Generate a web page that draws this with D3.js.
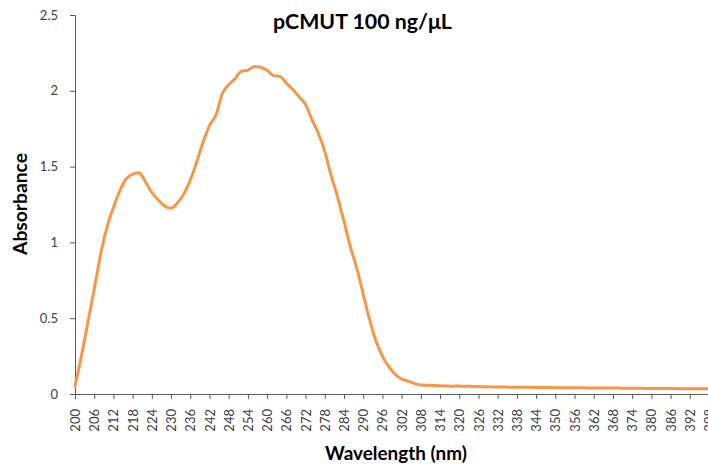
<!DOCTYPE html>
<html>
<head>
<meta charset="utf-8">
<script src="https://cdn.jsdelivr.net/npm/d3@7"></script>
<style>
  html, body { margin: 0; padding: 0; background: #fff; }
  svg { display: block; font-family: Lato, "Open Sans", sans-serif; }
</style>
</head>
<body>
<svg id="chart" width="708" height="468"></svg>
<script>
// ---- data ----
const wavelengths = [200,202,204,206,208,210,212,214,216,218,220,222,224,226,228,230,232,234,236,238,
  240,242,244,246,248,250,252,254,256,258,260,262,264,266,268,270,272,274,276,278,
  280,282,284,286,288,290,292,294,296,298,300,302,304,306,308,310,312,314,316,318,
  320,322,324,326,328,330,332,334,336,338,340,342,344,346,348,350,352,354,356,358,
  360,362,364,366,368,370,372,374,376,378,380,382,384,386,388,390,392,394,396,398];
const absorbance = [0.05,0.25,0.47,0.69,0.92,1.10,1.23,1.34,1.42,1.45,1.46,1.40,1.33,1.28,1.24,1.225,1.26,1.32,1.41,1.53,
  1.66,1.77,1.84,1.98,2.04,2.08,2.13,2.135,2.16,2.155,2.135,2.10,2.095,2.05,2.01,1.96,1.91,1.81,1.72,1.60,
  1.44,1.30,1.14,0.97,0.83,0.66,0.49,0.35,0.25,0.18,0.13,0.10,0.085,0.07,0.06,0.058,0.056,0.054,0.052,0.051,
  0.053,0.051,0.050,0.049,0.048,0.047,0.046,0.046,0.045,0.045,0.044,0.044,0.043,0.043,0.043,0.042,0.042,0.042,0.041,0.041,
  0.040,0.040,0.040,0.039,0.039,0.039,0.038,0.038,0.038,0.037,0.037,0.037,0.036,0.036,0.035,0.035,0.035,0.034,0.034,0.034];
const xTicks = d3.range(200, 399, 6);
const yTicks = [0, 0.5, 1, 1.5, 2, 2.5];
const titleText = "pCMUT 100 ng/\u03bcL";
const xTitle = "Wavelength (nm)";
const yTitle = "Absorbance";

// ---- layout ----
const svg = d3.select("#chart");
const x = d3.scaleLinear().domain([200, 398]).range([75, 709]);
const y = d3.scaleLinear().domain([0, 2.5]).range([394, 15]);
const axisColor = "#595959";
const textColor = "#404040";

// y axis
const gy = svg.append("g").attr("transform", "translate(75,0)")
  .call(d3.axisLeft(y).tickValues(yTicks).tickFormat(d => String(d)).tickSize(5).tickPadding(12));
gy.select(".domain").attr("stroke", axisColor);
gy.selectAll(".tick line").attr("stroke", axisColor);
gy.selectAll(".tick text").attr("fill", textColor).style("font-size", "13px").style("font-family", "Lato, sans-serif");

// x axis
const gx = svg.append("g").attr("transform", "translate(0,394)")
  .call(d3.axisBottom(x).tickValues(xTicks).tickFormat(d => String(d)).tickSize(5));
gx.select(".domain").attr("stroke", axisColor);
gx.selectAll(".tick line").attr("stroke", axisColor);
gx.selectAll(".tick text")
  .attr("fill", textColor)
  .style("font-size", "13px").style("font-family", "Lato, sans-serif")
  .attr("transform", "rotate(-90)")
  .attr("y", 0).attr("x", -15).attr("dy", "0.35em")
  .style("text-anchor", "end");

// line
const line = d3.line().x((d, i) => x(wavelengths[i])).y(d => y(d)).curve(d3.curveMonotoneX);
svg.append("path").datum(absorbance)
  .attr("d", line).attr("fill", "none")
  .attr("stroke", "#F79646").attr("stroke-width", 3)
  .attr("stroke-linejoin", "round").attr("stroke-linecap", "round");

// titles
function fitText(sel, target) {
  const w = sel.node().getComputedTextLength();
  const fs = parseFloat(sel.style("font-size"));
  sel.style("font-size", (fs * target / w) + "px");
}
const t = svg.append("text").attr("x", 362.5).attr("y", 29).attr("text-anchor", "middle")
  .style("font-weight", "bold").style("font-size", "18px").attr("fill", "#000").text(titleText);
fitText(t, 179);

const xt = svg.append("text").attr("x", 396).attr("y", 460).attr("text-anchor", "middle")
  .style("font-weight", "bold").style("font-size", "17px").attr("fill", "#000").text(xTitle);
fitText(xt, 142);

const yt = svg.append("text").attr("transform", "translate(27,204) rotate(-90)").attr("text-anchor", "middle")
  .style("font-weight", "bold").style("font-size", "17px").attr("fill", "#000").text(yTitle);
fitText(yt, 102);
</script>
</body>
</html>
